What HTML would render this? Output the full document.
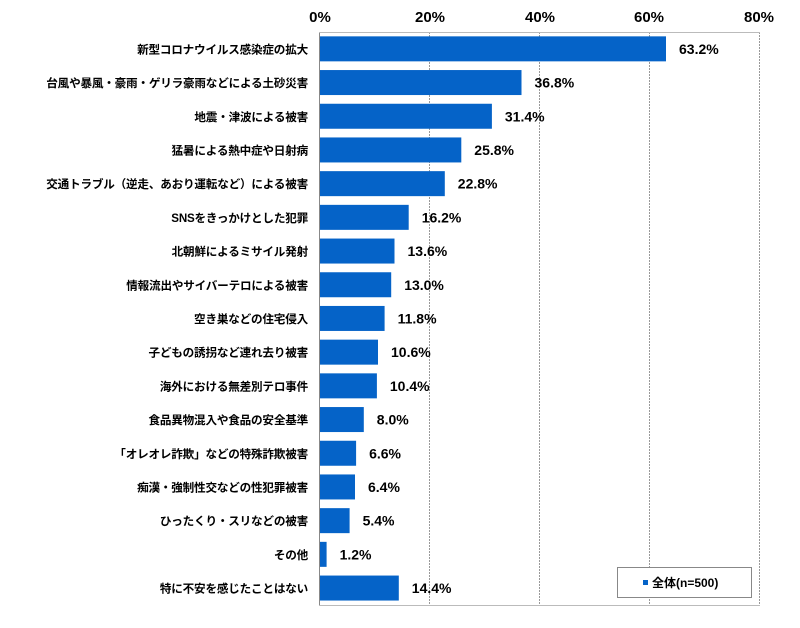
<!DOCTYPE html>
<html><head><meta charset="utf-8"><style>
body{margin:0;background:#fff;}
svg text{font-family:"Liberation Sans","Noto Sans CJK JP",sans-serif;font-weight:bold;fill:#000;}
.l{font-size:11.6px;text-anchor:end;letter-spacing:-0.2px;}
.v{font-size:14px;}
</style></head><body>
<svg width="800" height="623" xmlns="http://www.w3.org/2000/svg">
<g font-size="15" text-anchor="middle">
<text x="320" y="22">0%</text><text x="430" y="22">20%</text><text x="540" y="22">40%</text><text x="649" y="22">60%</text><text x="759" y="22">80%</text>
</g>
<g stroke="#999" stroke-width="1" stroke-dasharray="2,1">
<line x1="429.5" y1="32" x2="429.5" y2="605"/><line x1="539.5" y1="32" x2="539.5" y2="605"/><line x1="649.5" y1="32" x2="649.5" y2="605"/><line x1="759.5" y1="32" x2="759.5" y2="605"/>
</g>
<line x1="319.5" y1="32" x2="319.5" y2="605" stroke="#888"/>
<line x1="319" y1="605.5" x2="760" y2="605.5" stroke="#bbb"/>
<line x1="319" y1="32.5" x2="760" y2="32.5" stroke="#bbb"/>
<g fill="#0563c8">
<rect x="320" y="36.35" width="346" height="25"/>
<rect x="320" y="70.05" width="201.5" height="25"/>
<rect x="320" y="103.75" width="171.9" height="25"/>
<rect x="320" y="137.45" width="141.3" height="25"/>
<rect x="320" y="171.15" width="124.8" height="25"/>
<rect x="320" y="204.85" width="88.7" height="25"/>
<rect x="320" y="238.55" width="74.5" height="25"/>
<rect x="320" y="272.25" width="71.2" height="25"/>
<rect x="320" y="305.95" width="64.6" height="25"/>
<rect x="320" y="339.65" width="58" height="25"/>
<rect x="320" y="373.35" width="56.9" height="25"/>
<rect x="320" y="407.05" width="43.8" height="25"/>
<rect x="320" y="440.75" width="36.1" height="25"/>
<rect x="320" y="474.45" width="35" height="25"/>
<rect x="320" y="508.15" width="29.6" height="25"/>
<rect x="320" y="541.85" width="6.6" height="25"/>
<rect x="320" y="575.55" width="78.8" height="25"/>
</g>
<text class="l" x="308" y="53.35">新型コロナウイルス感染症の拡大</text>
<text class="l" x="308" y="87.05">台風や暴風・豪雨・ゲリラ豪雨などによる土砂災害</text>
<text class="l" x="308" y="120.75">地震・津波による被害</text>
<text class="l" x="308" y="154.45">猛暑による熱中症や日射病</text>
<text class="l" x="308" y="188.15">交通トラブル（逆走、あおり運転など）による被害</text>
<text class="l" x="308" y="221.85">SNSをきっかけとした犯罪</text>
<text class="l" x="308" y="255.55">北朝鮮によるミサイル発射</text>
<text class="l" x="308" y="289.25">情報流出やサイバーテロによる被害</text>
<text class="l" x="308" y="322.95">空き巣などの住宅侵入</text>
<text class="l" x="308" y="356.65">子どもの誘拐など連れ去り被害</text>
<text class="l" x="308" y="390.35">海外における無差別テロ事件</text>
<text class="l" x="308" y="424.05">食品異物混入や食品の安全基準</text>
<text class="l" x="308" y="457.75">「オレオレ詐欺」などの特殊詐欺被害</text>
<text class="l" x="308" y="491.45">痴漢・強制性交などの性犯罪被害</text>
<text class="l" x="308" y="525.15">ひったくり・スリなどの被害</text>
<text class="l" x="308" y="558.85">その他</text>
<text class="l" x="308" y="592.55">特に不安を感じたことはない</text>
<text class="v" x="679" y="53.85">63.2%</text>
<text class="v" x="534.5" y="87.55">36.8%</text>
<text class="v" x="504.9" y="121.25">31.4%</text>
<text class="v" x="474.3" y="154.95">25.8%</text>
<text class="v" x="457.8" y="188.65">22.8%</text>
<text class="v" x="421.7" y="222.35">16.2%</text>
<text class="v" x="407.5" y="256.05">13.6%</text>
<text class="v" x="404.2" y="289.75">13.0%</text>
<text class="v" x="397.6" y="323.45">11.8%</text>
<text class="v" x="391" y="357.15">10.6%</text>
<text class="v" x="389.9" y="390.85">10.4%</text>
<text class="v" x="376.8" y="424.55">8.0%</text>
<text class="v" x="369.1" y="458.25">6.6%</text>
<text class="v" x="368" y="491.95">6.4%</text>
<text class="v" x="362.6" y="525.65">5.4%</text>
<text class="v" x="339.6" y="559.35">1.2%</text>
<text class="v" x="411.8" y="593.05">14.4%</text>
<rect x="617.5" y="567.5" width="134" height="30" fill="#fff" stroke="#888"/>
<rect x="643" y="580" width="5" height="5" fill="#0563c8"/>
<text x="652" y="587" font-size="12">全体(n=500)</text>
</svg>
</body></html>
